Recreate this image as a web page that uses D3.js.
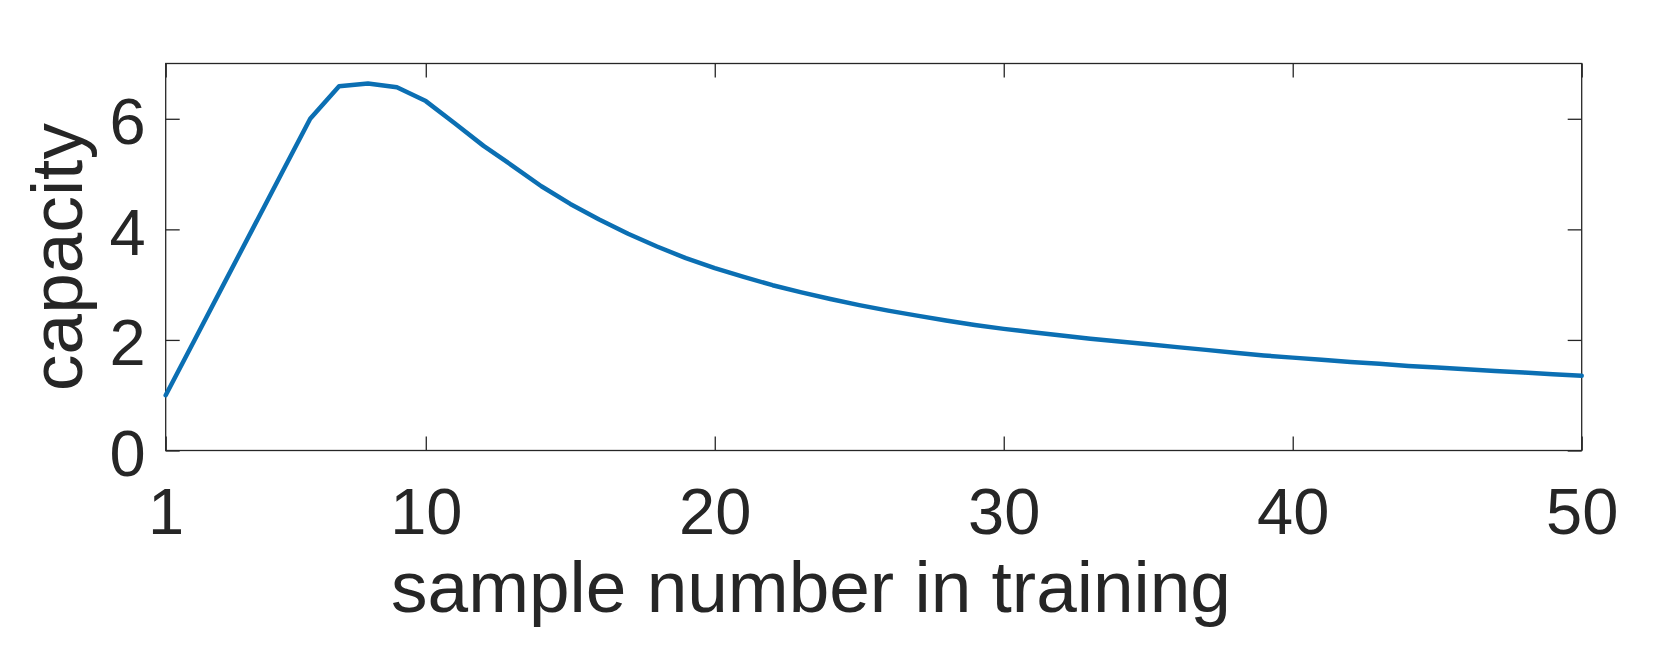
<!DOCTYPE html>
<html>
<head>
<meta charset="utf-8">
<script src="https://cdnjs.cloudflare.com/ajax/libs/d3/7.8.5/d3.min.js"></script>
<style>
body { margin: 0; background: #fff; }
text { font-family: Arial, "Liberation Sans", sans-serif; fill: #262626; }
</style>
</head>
<body>
<svg width="1655" height="654"></svg>
<script>
// sample number (x) and capacity (y)
var samples = d3.range(1, 51);
var capacity = [1.00, 2.00, 3.00, 4.00, 5.00, 6.00, 6.59, 6.64, 6.57, 6.32,
	5.92, 5.51, 5.15, 4.78, 4.46, 4.18, 3.92, 3.69, 3.48, 3.30,
	3.14, 2.99, 2.86, 2.74, 2.63, 2.53, 2.44, 2.35, 2.27, 2.20,
	2.14, 2.08, 2.02, 1.97, 1.92, 1.87, 1.82, 1.77, 1.72, 1.68,
	1.64, 1.60, 1.57, 1.53, 1.50, 1.47, 1.44, 1.41, 1.38, 1.35];
var xTicks = [1, 10, 20, 30, 40, 50];
var yTicks = [0, 2, 4, 6];
var xLabel = "sample number in training";
var yLabel = "capacity";

var svg = d3.select("svg"),
	margin = {top: 63.5, right: 73.3, bottom: 203.5, left: 165.7},
	width = +svg.attr("width") - margin.left - margin.right,
	height = +svg.attr("height") - margin.top - margin.bottom,
	g = svg.append("g").attr("transform", "translate(" + margin.left + "," + margin.top + ")");

var x = d3.scaleLinear().domain([1, 50]).range([0, width]);
var y = d3.scaleLinear().domain([0, 7]).range([height, 0]);

var data = samples.map(function(d, i) { return {n: d, c: capacity[i]}; });

var line = d3.line()
	.x(function(d) { return x(d.n); })
	.y(function(d) { return y(d.c); });

function styleAxis(sel) {
	sel.select(".domain").remove();
	sel.selectAll(".tick line").attr("stroke", "#262626").attr("stroke-width", 1.3);
}

// bottom + top
g.append("g")
	.attr("transform", "translate(0," + height + ")")
	.call(d3.axisBottom(x).tickValues(xTicks).tickSize(-14).tickPadding(0).tickFormat(d3.format("d")))
	.call(styleAxis)
	.selectAll("text")
		.attr("font-size", 65)
		.attr("y", 83)
		.attr("dy", 0);

g.append("g")
	.call(d3.axisTop(x).tickValues(xTicks).tickSize(-14).tickFormat(""))
	.call(styleAxis);

// left + right
g.append("g")
	.call(d3.axisLeft(y).tickValues(yTicks).tickSize(-14).tickPadding(20).tickFormat(d3.format("d")))
	.call(styleAxis)
	.selectAll("text")
		.attr("font-size", 65)
		.attr("x", -20)
		.attr("dy", "0.38em");

g.append("g")
	.attr("transform", "translate(" + width + ",0)")
	.call(d3.axisRight(y).tickValues(yTicks).tickSize(-14).tickFormat(""))
	.call(styleAxis);

// box
g.append("rect")
	.attr("width", width)
	.attr("height", height)
	.attr("fill", "none")
	.attr("stroke", "#262626")
	.attr("stroke-width", 1.3);

g.append("path")
	.datum(data)
	.attr("fill", "none")
	.attr("stroke", "#0b6fb3")
	.attr("stroke-width", 4.5)
	.attr("stroke-linejoin", "round")
	.attr("stroke-linecap", "round")
	.attr("d", line);

svg.append("text")
	.attr("x", 811)
	.attr("y", 612)
	.attr("text-anchor", "middle")
	.attr("font-size", 73)
	.text(xLabel);

svg.append("text")
	.attr("transform", "translate(82," + (margin.top + height / 2) + ") rotate(-90)")
	.attr("text-anchor", "middle")
	.attr("font-size", 73)
	.text(yLabel);
</script>
</body>
</html>
